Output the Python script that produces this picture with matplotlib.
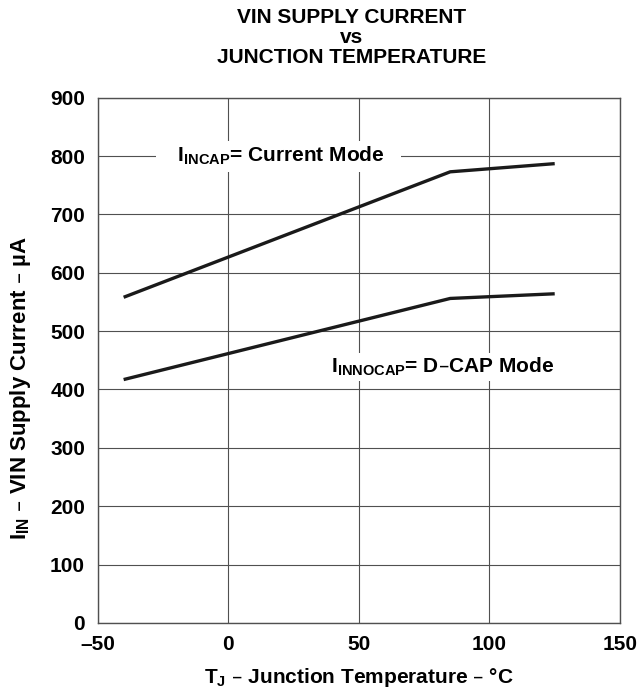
import matplotlib

matplotlib.use("Agg")
import matplotlib.pyplot as plt

plt.rcParams["font.family"] = ["Liberation Sans", "DejaVu Sans"]
plt.rcParams["font.weight"] = "bold"

# junction temperature (C) and supply current (uA)
temp = [-40, 85, 125]
i_current_mode = [558, 773, 787]
i_dcap_mode = [417, 556, 564]

x_ticks = [-50, 0, 50, 100, 150]
x_tick_labels = ["\u201350", "0", "50", "100", "150"]
y_ticks = [0, 100, 200, 300, 400, 500, 600, 700, 800, 900]

FS = 15

fig = plt.figure(figsize=(6.39, 6.88), dpi=100)
ax = fig.add_axes([0.1526, 0.0946, 0.8177, 0.7634])

ax.plot(temp, i_current_mode, color="#1a1a1a", lw=2.4, solid_capstyle="butt", zorder=3)
ax.plot(temp, i_dcap_mode, color="#1a1a1a", lw=2.4, solid_capstyle="butt", zorder=3)

ax.set_xlim(-50, 150)
ax.set_ylim(0, 900)
ax.set_xticks(x_ticks)
ax.set_xticklabels(x_tick_labels)
ax.set_yticks(y_ticks)
ax.tick_params(length=0, labelsize=FS, pad=9)
for lab in ax.get_xticklabels() + ax.get_yticklabels():
    lab.set_fontweight("bold")
ax.grid(True, color="#505050", lw=0.8)
for s in ax.spines.values():
    s.set_color("#505050")
    s.set_linewidth(1.0)

ax.text(19.4, 800, "   I$_{\\mathregular{INCAP}}$= Current Mode   ", ha="center", va="center",
        fontsize=FS, fontweight="bold", zorder=4,
        bbox=dict(facecolor="white", edgecolor="none", pad=3))
ax.text(82, 439, "I$_{\\mathregular{INNOCAP}}$= D\u2013CAP Mode", ha="center", va="center",
        fontsize=FS, fontweight="bold", zorder=4,
        bbox=dict(facecolor="white", edgecolor="none", pad=2))

ax.set_xlabel("T$_{\\mathregular{J}}$ \u2013 Junction Temperature \u2013 \u00b0C",
              fontsize=FS, fontweight="bold", labelpad=8)
ax.set_ylabel("I$_{\\mathregular{IN}}$ \u2013 VIN Supply Current \u2013 \u00b5A",
              fontsize=16, fontweight="bold")
ax.yaxis.set_label_coords(-0.147, 0.448)
ax.yaxis.label.set_va("center")

fig.text(0.55, 0.988, "VIN SUPPLY CURRENT\nvs\nJUNCTION TEMPERATURE",
         ha="center", va="top", fontsize=FS, fontweight="bold", linespacing=1.05)

fig.savefig("out.png", dpi=100)
